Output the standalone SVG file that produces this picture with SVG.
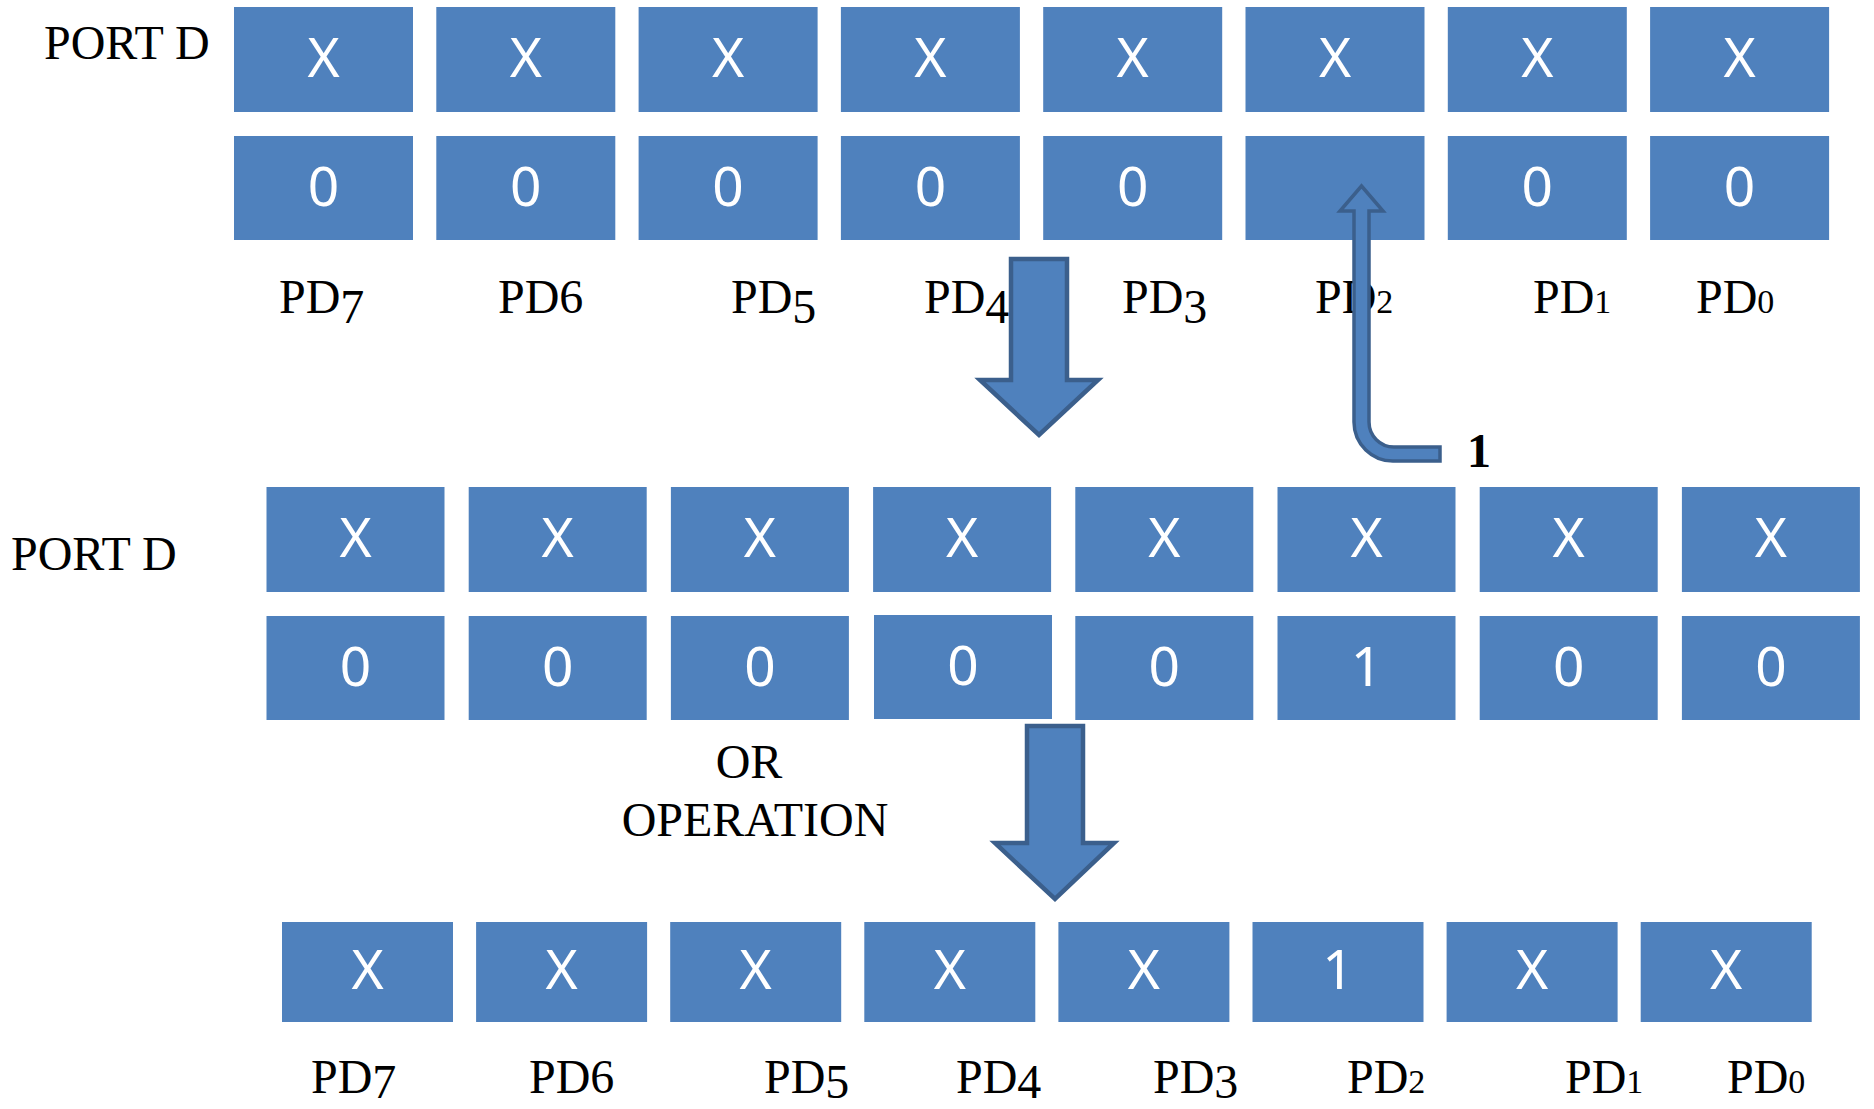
<svg xmlns="http://www.w3.org/2000/svg" width="1874" height="1109" viewBox="0 0 1874 1109">
<style>
.box{fill:#4F81BD;}
.bit{font-family:"Noto Sans","Open Sans",sans-serif;font-size:55px;fill:#FFFFFF;text-anchor:middle;}
.lbl{font-family:"Liberation Serif","Times New Roman",serif;font-size:48px;fill:#000000;}
.os{font-size:34px;}
.arrow{fill:#4F81BD;stroke:#3B5F8C;stroke-width:4.5;stroke-linejoin:miter;}
.thin{fill:#4F81BD;stroke:#3B5F8C;stroke-width:3.5;}
</style>
<rect width="1874" height="1109" fill="#FFFFFF"/>

<g id="port-labels">
<text class="lbl" x="44" y="59">PORT D</text>
<text class="lbl" x="11" y="570">PORT D</text>
</g>

<g id="row1">
<g id="r1-b7"><rect class="box" x="234" y="7" width="179" height="105"/><text class="bit" x="323.5" y="77">X</text></g>
<g id="r1-b6"><rect class="box" x="436.3" y="7" width="179" height="105"/><text class="bit" x="525.8" y="77">X</text></g>
<g id="r1-b5"><rect class="box" x="638.6" y="7" width="179" height="105"/><text class="bit" x="728.1" y="77">X</text></g>
<g id="r1-b4"><rect class="box" x="840.9" y="7" width="179" height="105"/><text class="bit" x="930.4" y="77">X</text></g>
<g id="r1-b3"><rect class="box" x="1043.2" y="7" width="179" height="105"/><text class="bit" x="1132.7" y="77">X</text></g>
<g id="r1-b2"><rect class="box" x="1245.5" y="7" width="179" height="105"/><text class="bit" x="1335" y="77">X</text></g>
<g id="r1-b1"><rect class="box" x="1447.8" y="7" width="179" height="105"/><text class="bit" x="1537.3" y="77">X</text></g>
<g id="r1-b0"><rect class="box" x="1650.1" y="7" width="179" height="105"/><text class="bit" x="1739.6" y="77">X</text></g>
</g>

<g id="row2">
<g id="r2-b7"><rect class="box" x="234" y="136" width="179" height="104"/><text class="bit" x="323.5" y="206">0</text></g>
<g id="r2-b6"><rect class="box" x="436.3" y="136" width="179" height="104"/><text class="bit" x="525.8" y="206">0</text></g>
<g id="r2-b5"><rect class="box" x="638.6" y="136" width="179" height="104"/><text class="bit" x="728.1" y="206">0</text></g>
<g id="r2-b4"><rect class="box" x="840.9" y="136" width="179" height="104"/><text class="bit" x="930.4" y="206">0</text></g>
<g id="r2-b3"><rect class="box" x="1043.2" y="136" width="179" height="104"/><text class="bit" x="1132.7" y="206">0</text></g>
<g id="r2-b2"><rect class="box" x="1245.5" y="136" width="179" height="104"/></g>
<g id="r2-b1"><rect class="box" x="1447.8" y="136" width="179" height="104"/><text class="bit" x="1537.3" y="206">0</text></g>
<g id="r2-b0"><rect class="box" x="1650.1" y="136" width="179" height="104"/><text class="bit" x="1739.6" y="206">0</text></g>
</g>

<g id="labels-top">
<text class="lbl" x="279" y="313">PD<tspan dy="10">7</tspan></text>
<text class="lbl" x="498" y="313">PD6</text>
<text class="lbl" x="731" y="313">PD<tspan dy="10">5</tspan></text>
<text class="lbl" x="924" y="313">PD<tspan dy="10">4</tspan></text>
<text class="lbl" x="1122" y="313">PD<tspan dy="10">3</tspan></text>
<text class="lbl" x="1315" y="313">PD<tspan class="os">2</tspan></text>
<text class="lbl" x="1533" y="313">PD<tspan class="os">1</tspan></text>
<text class="lbl" x="1696" y="313">PD<tspan class="os">0</tspan></text>
</g>

<g id="row3">
<g id="r3-b7"><rect class="box" x="266.5" y="487" width="178" height="105"/><text class="bit" x="355.5" y="557">X</text></g>
<g id="r3-b6"><rect class="box" x="468.7" y="487" width="178" height="105"/><text class="bit" x="557.7" y="557">X</text></g>
<g id="r3-b5"><rect class="box" x="670.9" y="487" width="178" height="105"/><text class="bit" x="759.9" y="557">X</text></g>
<g id="r3-b4"><rect class="box" x="873.1" y="487" width="178" height="105"/><text class="bit" x="962.1" y="557">X</text></g>
<g id="r3-b3"><rect class="box" x="1075.3" y="487" width="178" height="105"/><text class="bit" x="1164.3" y="557">X</text></g>
<g id="r3-b2"><rect class="box" x="1277.5" y="487" width="178" height="105"/><text class="bit" x="1366.5" y="557">X</text></g>
<g id="r3-b1"><rect class="box" x="1479.7" y="487" width="178" height="105"/><text class="bit" x="1568.7" y="557">X</text></g>
<g id="r3-b0"><rect class="box" x="1681.9" y="487" width="178" height="105"/><text class="bit" x="1770.9" y="557">X</text></g>
</g>

<g id="row4">
<g id="r4-b7"><rect class="box" x="266.5" y="616" width="178" height="104"/><text class="bit" x="355.5" y="686">0</text></g>
<g id="r4-b6"><rect class="box" x="468.7" y="616" width="178" height="104"/><text class="bit" x="557.7" y="686">0</text></g>
<g id="r4-b5"><rect class="box" x="670.9" y="616" width="178" height="104"/><text class="bit" x="759.9" y="686">0</text></g>
<g id="r4-b4"><rect class="box" x="874" y="615" width="178" height="104"/><text class="bit" x="963" y="685">0</text></g>
<g id="r4-b3"><rect class="box" x="1075.3" y="616" width="178" height="104"/><text class="bit" x="1164.3" y="686">0</text></g>
<g id="r4-b2"><rect class="box" x="1277.5" y="616" width="178" height="104"/><text class="bit" x="1366.5" y="686">1</text></g>
<g id="r4-b1"><rect class="box" x="1479.7" y="616" width="178" height="104"/><text class="bit" x="1568.7" y="686">0</text></g>
<g id="r4-b0"><rect class="box" x="1681.9" y="616" width="178" height="104"/><text class="bit" x="1770.9" y="686">0</text></g>
</g>

<g id="or-label">
<text class="lbl" x="749" y="778" text-anchor="middle">OR</text>
<text class="lbl" x="755" y="836" text-anchor="middle">OPERATION</text>
</g>

<g id="row5">
<g id="r5-b7"><rect class="box" x="282" y="922" width="171" height="100"/><text class="bit" x="367.5" y="989">X</text></g>
<g id="r5-b6"><rect class="box" x="476.1" y="922" width="171" height="100"/><text class="bit" x="561.6" y="989">X</text></g>
<g id="r5-b5"><rect class="box" x="670.2" y="922" width="171" height="100"/><text class="bit" x="755.7" y="989">X</text></g>
<g id="r5-b4"><rect class="box" x="864.3" y="922" width="171" height="100"/><text class="bit" x="949.8" y="989">X</text></g>
<g id="r5-b3"><rect class="box" x="1058.4" y="922" width="171" height="100"/><text class="bit" x="1143.9" y="989">X</text></g>
<g id="r5-b2"><rect class="box" x="1252.5" y="922" width="171" height="100"/><text class="bit" x="1338" y="989">1</text></g>
<g id="r5-b1"><rect class="box" x="1446.6" y="922" width="171" height="100"/><text class="bit" x="1532.1" y="989">X</text></g>
<g id="r5-b0"><rect class="box" x="1640.7" y="922" width="171" height="100"/><text class="bit" x="1726.2" y="989">X</text></g>
</g>

<g id="labels-bottom">
<text class="lbl" x="311" y="1093">PD<tspan dy="5">7</tspan></text>
<text class="lbl" x="529" y="1093">PD6</text>
<text class="lbl" x="764" y="1093">PD<tspan dy="5">5</tspan></text>
<text class="lbl" x="956" y="1093">PD<tspan dy="5">4</tspan></text>
<text class="lbl" x="1153" y="1093">PD<tspan dy="5">3</tspan></text>
<text class="lbl" x="1347" y="1093">PD<tspan class="os">2</tspan></text>
<text class="lbl" x="1565" y="1093">PD<tspan class="os">1</tspan></text>
<text class="lbl" x="1727" y="1093">PD<tspan class="os">0</tspan></text>
</g>

<g id="connectors">
<path id="arrow-down-1" class="arrow" d="M1011 259 H1067 V380 H1098 L1039 435 L980 380 H1011 Z"/>
<path id="arrow-down-2" class="arrow" d="M1027 726 H1083 V843 H1114 L1055 899 L995 843 H1027 Z"/>
<path id="arrow-set-bit" class="thin" d="M1361.5 186 L1383 211 L1369 211 L1369 422 A25 25 0 0 0 1394 447 L1440 447 L1440 461 L1394 461 A39 39 0 0 1 1354 422 L1354 211 L1340 211 Z"/>
</g>

<g id="one-label">
<text class="lbl" x="1467" y="467" font-weight="bold">1</text>
</g>
</svg>
